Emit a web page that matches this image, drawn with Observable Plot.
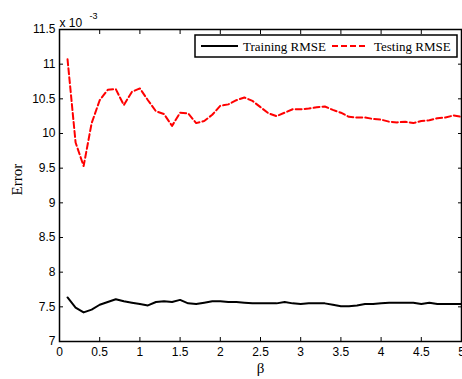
<!DOCTYPE html>
<html>
<head>
<meta charset="utf-8">
<script src="https://cdn.jsdelivr.net/npm/d3@7"></script>
<script src="https://cdn.jsdelivr.net/npm/@observablehq/plot@0.6"></script>
<style>
  html, body { margin: 0; padding: 0; background: #fff; }
  #chart { position: relative; width: 462px; height: 379px; }
</style>
</head>
<body>
<div id="chart"></div>
<script>
const beta = [0.1,0.2,0.3,0.4,0.5,0.6,0.7,0.8,0.9,1.0,1.1,1.2,1.3,1.4,1.5,1.6,1.7,1.8,1.9,2.0,2.1,2.2,2.3,2.4,2.5,2.6,2.7,2.8,2.9,3.0,3.1,3.2,3.3,3.4,3.5,3.6,3.7,3.8,3.9,4.0,4.1,4.2,4.3,4.4,4.5,4.6,4.7,4.8,4.9,5.0];
// values in units of 1e-3
const trainingRMSE = [7.635,7.49,7.42,7.46,7.53,7.57,7.61,7.58,7.56,7.54,7.52,7.57,7.58,7.57,7.60,7.55,7.54,7.56,7.58,7.58,7.57,7.57,7.56,7.55,7.55,7.55,7.55,7.57,7.55,7.54,7.55,7.55,7.55,7.53,7.51,7.51,7.52,7.54,7.54,7.55,7.56,7.56,7.56,7.56,7.54,7.56,7.54,7.54,7.54,7.54];
const testingRMSE = [11.07,9.87,9.53,10.15,10.48,10.63,10.64,10.41,10.60,10.65,10.48,10.32,10.28,10.11,10.30,10.29,10.15,10.18,10.27,10.40,10.42,10.48,10.52,10.47,10.38,10.29,10.25,10.30,10.35,10.35,10.36,10.38,10.39,10.34,10.30,10.24,10.23,10.23,10.21,10.20,10.17,10.16,10.17,10.15,10.18,10.19,10.22,10.23,10.26,10.24];
const xTicks = [0,0.5,1,1.5,2,2.5,3,3.5,4,4.5,5];
const yTicks = [7,7.5,8,8.5,9,9.5,10,10.5,11,11.5];
const seriesNames = ["Training RMSE", "Testing RMSE"];

const train = beta.map((b, i) => ({beta: b, value: trainingRMSE[i]}));
const test = beta.map((b, i) => ({beta: b, value: testingRMSE[i]}));

const sans = "Arial, 'Liberation Sans', Helvetica, sans-serif";
const serif = "'Times New Roman', 'Liberation Serif', serif";

const chart = Plot.plot({
  width: 462,
  height: 379,
  marginLeft: 59,
  marginRight: 1,
  marginTop: 29,
  marginBottom: 38,
  style: {fontFamily: sans, fontSize: "12px", background: "white", color: "black", overflow: "visible"},
  x: {domain: [0, 5]},
  y: {domain: [7, 11.5]},
  marks: [
    Plot.axisX(xTicks, {anchor: "bottom", tickSize: -4, tickPadding: 10, tickFormat: d => String(d), label: null, fontSize: 12, strokeWidth: 1}),
    Plot.axisX(xTicks, {anchor: "top", tickSize: -4, tickFormat: () => "", label: null, strokeWidth: 1}),
    Plot.axisY(yTicks, {anchor: "left", tickSize: -4, tickPadding: 8, tickFormat: d => String(d), label: null, fontSize: 12, strokeWidth: 1}),
    Plot.axisY(yTicks, {anchor: "right", tickSize: -4, tickFormat: () => "", label: null, strokeWidth: 1}),
    Plot.line(train, {x: "beta", y: "value", stroke: "black", strokeWidth: 2}),
    Plot.line(test, {x: "beta", y: "value", stroke: "#ff0000", strokeWidth: 2, strokeDasharray: "6,3"}),
    Plot.frame({stroke: "black", strokeWidth: 1.5}),
    Plot.text(["Error"], {frameAnchor: "left", dx: -42, dy: 10, rotate: -90, fontFamily: serif, fontSize: 15, fill: "black"}),
    Plot.text(["β"], {frameAnchor: "bottom", dy: 31, fontFamily: serif, fontSize: 15, fill: "black"}),
    Plot.text(["x 10"], {frameAnchor: "top-left", dy: -11, dx: 0, textAnchor: "start", fontFamily: sans, fontSize: 12, fill: "black"}),
    Plot.text(["-3"], {frameAnchor: "top-left", dy: -17, dx: 30, textAnchor: "start", fontFamily: sans, fontSize: 9, fill: "black"})
  ]
});

// Legend box (MATLAB-style, inside the axes, north-east)
const svg = d3.select(chart);
const lg = svg.append("g").attr("transform", "translate(195,35)");
lg.append("rect").attr("width", 262).attr("height", 22).attr("fill", "white").attr("stroke", "black").attr("stroke-width", 1.5);
lg.append("line").attr("x1", 6).attr("x2", 43).attr("y1", 11).attr("y2", 11).attr("stroke", "black").attr("stroke-width", 2);
lg.append("text").attr("x", 48).attr("y", 11).attr("dy", "0.35em").attr("text-anchor", "start").attr("font-family", serif).attr("font-size", 13).attr("fill", "black").text(seriesNames[0]);
lg.append("line").attr("x1", 137).attr("x2", 172).attr("y1", 11).attr("y2", 11).attr("stroke", "#ff0000").attr("stroke-width", 2).attr("stroke-dasharray", "6,3");
lg.append("text").attr("x", 179).attr("y", 11).attr("dy", "0.35em").attr("text-anchor", "start").attr("font-family", serif).attr("font-size", 13).attr("fill", "black").text(seriesNames[1]);

document.getElementById("chart").appendChild(chart);
</script>
</body>
</html>
